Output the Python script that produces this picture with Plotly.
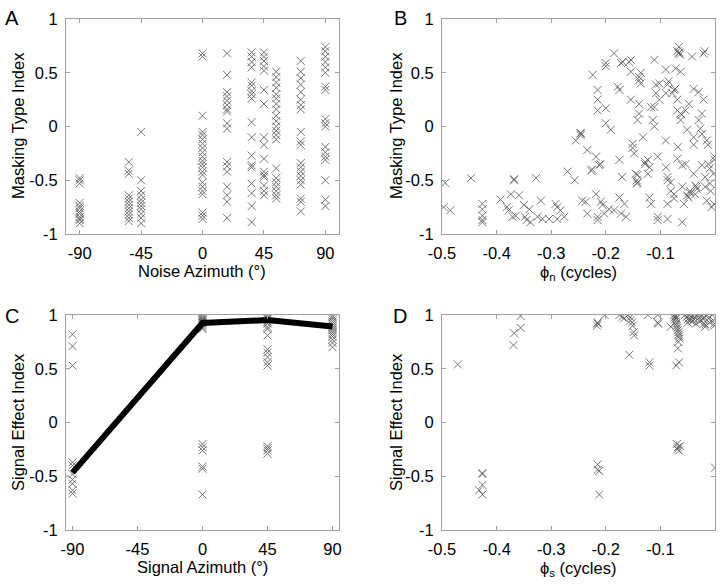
import plotly.graph_objects as go

W, H = 727, 585

# ---------------- Panel A: Noise azimuth vs masking type index ----------------
a_az_levels = [-90, -54, -45, 0, 18, 36, 45, 54, 72, 90]
a_vals = {
    -90: [-0.48, -0.5, -0.53, -0.71, -0.74, -0.76, -0.79, -0.81, -0.84, -0.86, -0.87, -0.9],
    -54: [-0.33, -0.41, -0.44, -0.64, -0.67, -0.7, -0.73, -0.76, -0.79, -0.82, -0.85, -0.88],
    -45: [-0.05, -0.5, -0.6, -0.64, -0.68, -0.71, -0.74, -0.77, -0.81, -0.85, -0.9],
    0: [0.68, 0.65, 0.1, -0.05, -0.08, -0.12, -0.16, -0.2, -0.24, -0.28, -0.32, -0.35,
        -0.38, -0.42, -0.45, -0.52, -0.56, -0.6, -0.63, -0.8, -0.83, -0.86],
    18: [0.68, 0.48, 0.32, 0.28, 0.24, 0.2, 0.16, 0.14, 0.03, -0.02, -0.33, -0.37, -0.42,
         -0.56, -0.64, -0.7, -0.85],
    36: [0.69, 0.65, 0.6, 0.55, 0.41, 0.38, 0.33, 0.3, 0.26, 0.04, -0.1, -0.27, -0.36,
         -0.38, -0.53, -0.62, -0.74, -0.89],
    45: [0.69, 0.65, 0.61, 0.56, 0.52, 0.34, 0.21, -0.1, -0.17, -0.3, -0.42, -0.45, -0.47,
         -0.55, -0.6, -0.64],
    54: [0.51, 0.46, 0.41, 0.36, 0.3, 0.26, 0.21, 0.16, 0.1, 0.05, 0.0, -0.04, -0.08, -0.12,
         -0.39, -0.48, -0.52, -0.56, -0.6, -0.64, -0.67],
    72: [0.61, 0.51, 0.45, 0.39, 0.32, 0.25, 0.2, 0.16, -0.05, -0.14, -0.17, -0.34, -0.38,
         -0.42, -0.46, -0.5, -0.54, -0.67, -0.7, -0.79],
    90: [0.74, 0.7, 0.65, 0.6, 0.55, 0.5, 0.37, 0.34, 0.07, 0.03, 0.0, -0.19, -0.24, -0.28,
         -0.31, -0.5, -0.68, -0.74],
}
a_x = [az for az in a_az_levels for _ in a_vals[az]]
a_y = [v for az in a_az_levels for v in a_vals[az]]

# ---------------- Panel B: phi_n vs masking type index ----------------
b_phi = [-0.494, -0.497, -0.485, -0.447, -0.426, -0.426, -0.426, -0.426, -0.426, -0.393,
         -0.381, -0.378, -0.371, -0.368, -0.368, -0.374, -0.359, -0.365, -0.35, -0.348,
         -0.345, -0.34, -0.338, -0.328, -0.325, -0.319, -0.316, -0.304, -0.292, -0.289,
         -0.289, -0.283, -0.276, -0.27, -0.257, -0.255, -0.246, -0.246, -0.243, -0.237,
         -0.234, -0.227, -0.225, -0.234, -0.224, -0.218, -0.218, -0.215, -0.215, -0.215,
         -0.215, -0.215, -0.212, -0.21, -0.209, -0.206, -0.203, -0.2, -0.2, -0.2,
         -0.2, -0.194, -0.191, -0.185, -0.185, -0.178, -0.175, -0.175, -0.172, -0.169,
         -0.175, -0.172, -0.17, -0.166, -0.163, -0.157, -0.154, -0.154, -0.154, -0.151,
         -0.151, -0.148, -0.145, -0.142, -0.142, -0.142, -0.139, -0.139, -0.139, -0.139,
         -0.136, -0.136, -0.132, -0.123, -0.12, -0.123, -0.12, -0.117, -0.117, -0.114,
         -0.111, -0.111, -0.111, -0.108, -0.108, -0.105, -0.105, -0.105, -0.102, -0.102,
         -0.09, -0.09, -0.087, -0.085, -0.09, -0.09, -0.087, -0.087, -0.087, -0.087,
         -0.081, -0.078, -0.075, -0.073, -0.075, -0.075, -0.072, -0.069, -0.067, -0.065,
         -0.069, -0.069, -0.069, -0.068, -0.066, -0.064, -0.063, -0.063, -0.061, -0.063,
         -0.06, -0.06, -0.06, -0.057, -0.054, -0.054, -0.051, -0.049, -0.051, -0.048,
         -0.045, -0.042, -0.039, -0.039, -0.039, -0.039, -0.036, -0.034, -0.036, -0.03,
         -0.03, -0.027, -0.024, -0.024, -0.024, -0.021, -0.019, -0.021, -0.018, -0.018,
         -0.015, -0.013, -0.015, -0.012, -0.01, -0.009, -0.006, -0.003, -0.001, -0.001,
         -0.002, -0.008, -0.033, -0.046, -0.081, -0.128, -0.128, -0.143, -0.143, -0.246]
b_mti = [-0.525, -0.75, -0.78, -0.48, -0.72, -0.77, -0.83, -0.87, -0.89, -0.68,
         -0.75, -0.78, -0.84, -0.49, -0.5, -0.63, -0.64, -0.83, -0.73, -0.84,
         -0.87, -0.77, -0.89, -0.48, -0.84, -0.69, -0.86, -0.86, -0.72, -0.75,
         -0.86, -0.78, -0.84, -0.42, -0.5, -0.13, -0.065, -0.08, -0.69, -0.7,
         -0.81, -0.41, -0.4, -0.22, 0.48, -0.28, -0.63, -0.84, -0.87, 0.34,
         0.25, 0.15, -0.36, -0.35, -0.7, -0.73, -0.81, 0.59, 0.56, 0.17,
         0.03, -0.77, -0.03, 0.68, -0.78, 0.37, 0.34, -0.31, 0.59, 0.6,
         -0.66, -0.81, -0.47, -0.72, -0.84, 0.6, 0.62, 0.51, 0.25, -0.16,
         -0.2, -0.25, -0.44, -0.45, -0.52, 0.06, 0.46, 0.43, 0.21, 0.12,
         0.5, 0.4, -0.1, -0.31, -0.38, -0.44, -0.66, -0.72, 0.18, 0.06,
         0.0, 0.18, 0.62, 0.39, 0.31, -0.84, -0.87, -0.28, 0.4, 0.25,
         0.53, -0.13, 0.39, 0.42, 0.31, -0.38, -0.47, -0.5, -0.86, -0.72,
         -0.52, 0.31, 0.34, 0.35, -0.63, -0.67, 0.54, 0.7, 0.68, 0.69,
         0.25, 0.15, -0.3, -0.19, 0.74, 0.67, 0.51, 0.12, 0.11, 0.06,
         -0.36, -0.56, -0.89, -0.72, -0.35, 0.15, -0.64, -0.66, -0.03, 0.21,
         -0.62, 0.65, 0.35, -0.1, -0.17, -0.44, -0.55, -0.56, -0.63, 0.32,
         0.06, -0.02, -0.07, -0.36, 0.12, 0.68, 0.7, 0.25, -0.47, -0.56,
         -0.13, -0.17, -0.69, -0.35, -0.39, -0.53, -0.75, -0.44, -0.31, -0.28,
         -0.72, -0.6, -0.58, -0.6, -0.6, -0.33, -0.35, -0.5, -0.53, -0.06]

# ---------------- Panel C: Signal azimuth vs signal effect index ----------------
c_az_levels = [-90, 0, 45, 90]
c_vals = {
    -90: [0.82, 0.71, 0.53, -0.37, -0.4, -0.48, -0.53, -0.57, -0.63, -0.66],
    0: [0.99, 0.98, 0.97, 0.96, 0.95, 0.94, 0.93, 0.92, 0.9, 0.88, 0.87,
        -0.2, -0.23, -0.26, -0.41, -0.43, -0.67],
    45: [0.99, 0.98, 0.97, 0.96, 0.94, 0.92, 0.89, 0.87, 0.81, 0.68, 0.65, 0.61, 0.56, 0.53,
         -0.22, -0.24, -0.26, -0.29],
    90: [0.99, 0.98, 0.96, 0.94, 0.92, 0.9, 0.88, 0.86, 0.84, 0.82, 0.8, 0.77, 0.74, 0.7],
}
c_x = [az for az in c_az_levels for _ in c_vals[az]]
c_y = [v for az in c_az_levels for v in c_vals[az]]
c_mean_az = [-90, 0, 45, 90]
c_mean = [-0.466, 0.925, 0.953, 0.894]

# ---------------- Panel D: phi_s vs signal effect index ----------------
d_phi = [-0.471, -0.368, -0.369, -0.356, -0.356, -0.426, -0.426, -0.426, -0.432, -0.426,
         -0.215, -0.215, -0.216, -0.215, -0.215, -0.212, -0.212, -0.202,
         -0.175, -0.17, -0.166, -0.16, -0.155, -0.155, -0.152, -0.151, -0.149, -0.148,
         -0.157, -0.123, -0.12, -0.12, -0.105, -0.105, -0.104,
         -0.081, -0.075, -0.074, -0.073, -0.072, -0.071, -0.07, -0.069, -0.068, -0.067,
         -0.066, -0.066, -0.065, -0.067, -0.068, -0.066, -0.071, -0.071, -0.071,
         -0.07, -0.068, -0.066, -0.064, -0.069,
         -0.055, -0.052, -0.05, -0.047, -0.045, -0.042, -0.04, -0.038, -0.035, -0.033,
         -0.03, -0.028, -0.025, -0.022, -0.02, -0.018, -0.015, -0.012, -0.01, -0.005,
         -0.003, -0.001, -0.001, -0.05, -0.045, -0.02, -0.018, 0.0]
d_sei = [0.54, 0.83, 0.72, 0.88, 0.99, -0.48, -0.47, -0.58, -0.63, -0.67,
         0.93, 0.92, 0.9, -0.39, -0.44, -0.45, -0.67, 1.0,
         1.0, 0.98, 0.97, 1.0, 0.98, 0.95, 0.93, 0.9, 0.84, 0.81,
         0.63, 1.0, 0.56, 0.53, 1.0, 0.93, 0.92,
         0.89, 1.0, 0.98, 0.96, 0.94, 0.92, 0.9, 0.88, 0.86, 0.84,
         0.82, 0.8, 0.78, 0.75, 0.69, 0.56, 0.53, 0.99, 0.97,
         -0.2, -0.23, -0.26, -0.22, -0.25,
         1.0, 0.98, 0.96, 1.0, 0.97, 0.94, 0.99, 0.96, 0.92, 1.0,
         0.97, 0.94, 0.99, 0.96, 0.92, 0.89, 1.0, 0.97, 0.93, 1.0,
         0.95, 0.92, 0.9, 0.93, 0.95, 0.98, 0.91, -0.42]

# ---------------- Tick labels ----------------
az_ticks = [-90, -45, 0, 45, 90]
az_tick_text = ["-90", "-45", "0", "45", "90"]
phi_ticks = [-0.5, -0.4, -0.3, -0.2, -0.1]
phi_tick_text = ["-0.5", "-0.4", "-0.3", "-0.2", "-0.1"]
idx_ticks = [-1, -0.5, 0, 0.5, 1]
idx_tick_text = ["-1", "-0.5", "0", "0.5", "1"]

FONT = "Arial, 'Liberation Sans', sans-serif"
MCOL = "rgba(85,85,85,0.8)"
FS = 16.5

fig = go.Figure()

def px_x(p):
    return p / W

def px_y(p):
    return 1 - p / H

marker = dict(symbol="x-thin-open", size=8, color=MCOL, line=dict(width=1, color=MCOL))

fig.add_trace(go.Scatter(x=a_x, y=a_y, mode="markers", marker=marker, xaxis="x", yaxis="y", showlegend=False))
fig.add_trace(go.Scatter(x=b_phi, y=b_mti, mode="markers", marker=marker, xaxis="x2", yaxis="y2", showlegend=False))
fig.add_trace(go.Scatter(x=c_x, y=c_y, mode="markers", marker=marker, xaxis="x3", yaxis="y3", showlegend=False))
fig.add_trace(go.Scatter(x=c_mean_az, y=c_mean, mode="lines", line=dict(color="black", width=6),
                         xaxis="x3", yaxis="y3", showlegend=False))
fig.add_trace(go.Scatter(x=d_phi, y=d_sei, mode="markers", marker=marker, xaxis="x4", yaxis="y4", showlegend=False))

xd_left = [px_x(66), px_x(339)]
xd_right = [px_x(442), px_x(715)]
yd_top = [px_y(234), px_y(19)]
yd_bot = [px_y(530), px_y(315)]

common = dict(showline=True, linecolor="#a0a0a0", linewidth=1, mirror="allticks",
              ticks="inside", ticklen=4, tickcolor="#a0a0a0", showgrid=False, zeroline=False,
              automargin=False,
              tickfont=dict(family=FONT, size=FS, color="black"), ticklabelstandoff=4)

fig.update_layout(
    template="none",
    width=W, height=H, margin=dict(l=0, r=0, t=0, b=0, pad=0),
    paper_bgcolor="white", plot_bgcolor="white",
    font=dict(family=FONT, color="black"),
    xaxis=dict(domain=xd_left, anchor="y", range=[-100, 100], tickvals=az_ticks, ticktext=az_tick_text, **common),
    yaxis=dict(domain=yd_top, anchor="x", range=[-1, 1], tickvals=idx_ticks, ticktext=idx_tick_text, **common),
    xaxis2=dict(domain=xd_right, anchor="y2", range=[-0.5, 0], tickvals=phi_ticks, ticktext=phi_tick_text, **common),
    yaxis2=dict(domain=yd_top, anchor="x2", range=[-1, 1], tickvals=idx_ticks, ticktext=idx_tick_text, **common),
    xaxis3=dict(domain=xd_left, anchor="y3", range=[-94.5, 94.5], tickvals=az_ticks, ticktext=az_tick_text, **common),
    yaxis3=dict(domain=yd_bot, anchor="x3", range=[-1, 1], tickvals=idx_ticks, ticktext=idx_tick_text, **common),
    xaxis4=dict(domain=xd_right, anchor="y4", range=[-0.5, 0], tickvals=phi_ticks, ticktext=phi_tick_text, **common),
    yaxis4=dict(domain=yd_bot, anchor="x4", range=[-1, 1], tickvals=idx_ticks, ticktext=idx_tick_text, **common),
)

ann = []
def add_text(text, cx, cy, size=FS, angle=0):
    ann.append(dict(text=text, x=px_x(cx), y=px_y(cy), xref="paper", yref="paper",
                    showarrow=False, xanchor="center", yanchor="middle", textangle=angle,
                    font=dict(family=FONT, size=size, color="black")))

# panel letters
add_text("A", 12, 18, size=20)
add_text("B", 400, 18, size=20)
add_text("C", 12, 316, size=20)
add_text("D", 400, 316, size=20)
# y titles
add_text("Masking Type Index", 18, 126, angle=-90)
add_text("Masking Type Index", 396, 126, angle=-90)
add_text("Signal Effect Index", 18, 422, angle=-90)
add_text("Signal Effect Index", 396, 422, angle=-90)
# x titles
add_text("Noise Azimuth (°)", 202, 271)
add_text("ϕ<sub>n</sub> (cycles)", 578, 273)
add_text("Signal Azimuth (°)", 202, 567)
add_text("ϕ<sub>s</sub> (cycles)", 578, 569)

fig.update_layout(annotations=ann)
fig.write_html("out.html", config={"displayModeBar": False},
               post_script="document.body.style.margin='0px';")
